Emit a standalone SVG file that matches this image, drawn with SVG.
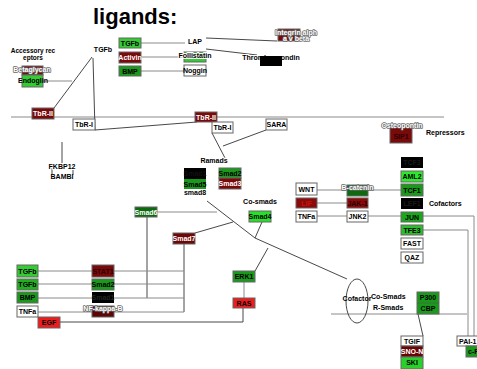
<svg xmlns="http://www.w3.org/2000/svg" width="477" height="369" viewBox="0 0 477 369">
<style>
  text { font-family: "Liberation Sans", Arial, sans-serif; font-weight: bold; font-size: 7px; }
  .c { text-anchor: middle; }
  .halo { paint-order: stroke; stroke: #fff; stroke-width: 2px; stroke-linejoin: round; }
  .wh { fill: #fff; paint-order: stroke; stroke: #666; stroke-width: 1.5px; stroke-linejoin: round; }
  .wt { fill: #fff; }
  .box { stroke: #666; stroke-width: 1; }
  .w { fill: #fff; }
  .g1 { fill: #33cc33; }
  .g2 { fill: #1a9a1a; }
  .g3 { fill: #0e6a0e; }
  .r1 { fill: #7a0a0a; }
  .r2 { fill: #ee1c1c; }
  .k { fill: #000; }
  .ln { fill: none; stroke: #333; stroke-width: 0.9; }
  .gl { fill: none; stroke: #8a8a8a; stroke-width: 1; }
</style>
<rect width="477" height="369" fill="#fff"/>

<!-- connectors -->
<g id="connectors">
  <line class="gl" x1="11" y1="117" x2="444" y2="117"/>
  <line class="gl" x1="331" y1="314" x2="467" y2="314"/>
  <line class="gl" x1="43" y1="81" x2="72" y2="81"/>
  <line class="ln" x1="92" y1="57" x2="54" y2="108"/>
  <line class="ln" x1="93" y1="58" x2="95" y2="130"/>
  <line class="ln" x1="95" y1="130" x2="197" y2="122"/>
  <line class="ln" x1="212" y1="133" x2="225" y2="158"/>
  <line class="ln" x1="223" y1="146" x2="266" y2="130"/>
  <line class="gl" x1="141" y1="43" x2="185" y2="43"/>
  <line class="gl" x1="141" y1="57" x2="184" y2="57"/>
  <line class="gl" x1="141" y1="71" x2="184" y2="71"/>
  <line class="ln" x1="206" y1="38" x2="277" y2="41"/>
  <line class="ln" x1="206" y1="49" x2="257" y2="55"/>
  <line class="ln" x1="62" y1="142" x2="62" y2="163"/>
  <line class="gl" x1="157" y1="212" x2="217" y2="212"/>
  <polyline class="ln" points="207,201 255,238 347,279"/>
  <line class="ln" x1="195" y1="233" x2="233" y2="222"/>
  <line class="ln" x1="262" y1="222" x2="255" y2="238"/>
  <line class="ln" x1="268" y1="248" x2="255" y2="271"/>
  <line class="gl" x1="244" y1="282" x2="244" y2="298"/>
  <polyline class="ln" points="60,322 243,322 243,308"/>
  <line class="ln" x1="147" y1="217" x2="147" y2="298"/>
  <line class="ln" x1="184" y1="244" x2="184" y2="312"/>
  <line class="gl" x1="38" y1="271" x2="184" y2="271"/>
  <line class="gl" x1="38" y1="284" x2="184" y2="284"/>
  <line class="gl" x1="38" y1="298" x2="184" y2="298"/>
  <line class="gl" x1="38" y1="312" x2="184" y2="312"/>
  <line class="gl" x1="317" y1="190" x2="401" y2="190"/>
  <line class="gl" x1="317" y1="203" x2="347" y2="203"/>
  <line class="gl" x1="317" y1="216" x2="401" y2="216"/>
  <polyline class="gl" points="423,216 474,216 474,336"/>
  <polyline class="gl" points="423,230 468,230 468,336"/>
  <line class="ln" x1="418" y1="314" x2="423" y2="336"/>
</g>

<!-- labels -->
<g id="labels">
  <text x="93" y="24" style="font-size:22px">ligands:</text>
  <text class="c" x="33" y="53" style="font-size:6.5px">Accessory rec</text>
  <text class="c" x="33" y="60" style="font-size:6.5px">eptors</text>
  <text class="c halo" x="103" y="52">TGFb</text>
  <text class="c halo" x="195" y="44">LAP</text>
  <text class="c halo" x="214" y="163">Ramads</text>
  <text class="c halo" x="260" y="204">Co-smads</text>
  <text x="426" y="135">Repressors</text>
  <text x="429" y="206">Cofactors</text>
  <text x="371" y="299">Co-Smads</text>
  <text x="373" y="310">R-Smads</text>
</g>

<g id="betaglycan"><rect class="box r1" x="22" y="66" width="21" height="9"/><text class="c wh" x="32" y="72">Betaglycan</text></g>
<g id="endoglin"><rect class="box g1" x="22" y="75" width="21" height="12"/><text class="c" x="33" y="82.5">Endoglin</text></g>
<g id="tbr2a"><rect class="box r1" x="32" y="108" width="22" height="11"/><text class="c wt" x="43" y="116">TbR-II</text></g>
<g id="tbr1a"><rect class="box w" x="73" y="119" width="22" height="11"/><text class="c" x="84" y="127">TbR-I</text></g>
<g id="tbr2b"><rect class="box r1" x="195" y="112" width="22" height="10"/><text class="c wt" x="206" y="119.5">TbR-II</text></g>
<g id="tbr1b"><rect class="box w" x="212" y="122" width="21" height="11"/><text class="c" x="222.5" y="130">TbR-I</text></g>
<g id="sara"><rect class="box w" x="266" y="119" width="21" height="11"/><text class="c" x="276.5" y="127">SARA</text></g>

<g id="tgfb-top"><rect class="box g1" x="119" y="38" width="22" height="10"/><text class="c" x="130" y="45.5">TGFb</text></g>
<g id="activin"><rect class="box r1" x="119" y="52" width="22" height="11"/><text class="c wt" x="130" y="59.5">Activin</text></g>
<g id="bmp-top"><rect class="box g2" x="119" y="66" width="22" height="10"/><text class="c" x="130" y="73.5">BMP</text></g>
<g id="follistatin"><rect class="box g1" x="184" y="52" width="22" height="10"/><text class="c halo" x="195" y="57.5">Follistatin</text></g>
<g id="noggin"><rect class="box w" x="184" y="65" width="22" height="11"/><text class="c" x="195" y="73">Noggin</text></g>
<g id="integrin"><rect class="box r1" x="278" y="29" width="22" height="12"/><text class="c wh" x="296" y="35">Integrin alph</text><text class="c wh" x="296" y="40.5">a v beta</text></g>
<g id="thrombospondin"><text class="c halo" x="271" y="60">Thrombospondin</text><rect class="k" x="260" y="56" width="22" height="10"/></g>

<g id="fkbp12"><line class="ln" x1="52" y1="168" x2="52" y2="175"/><line class="ln" x1="73" y1="168" x2="73" y2="175"/><text class="c halo" x="62" y="169">FKBP12</text><text class="c" x="62" y="179">BAMBI</text></g>

<g id="smad15"><rect class="k" x="184" y="168" width="22" height="11"/><text class="c" x="195" y="176" fill="#111">Smad1</text><rect class="g2" x="184" y="179" width="22" height="10"/><text class="c" x="195" y="186.5">Smad5</text><text class="c" x="195" y="195">smad8</text></g>
<g id="smad23"><rect class="box g2" x="219" y="168" width="22" height="10"/><text class="c" x="230" y="175.5">Smad2</text><rect class="box r1" x="219" y="178" width="22" height="11"/><text class="c wt" x="230" y="186">Smad3</text></g>
<g id="smad4"><rect class="box g1" x="249" y="211" width="22" height="11" style="fill:#2adf2a"/><text class="c" x="260" y="219">Smad4</text></g>
<g id="smad6"><rect class="box g3" x="135" y="207" width="22" height="10"/><text class="c wt" x="146" y="214.5">Smad6</text></g>
<g id="smad7"><rect class="box" x="173" y="233" width="22" height="11" style="fill:#6d0808"/><text class="c wt" x="184" y="241">Smad7</text></g>
<g id="erk1"><rect class="box g2" x="233" y="271" width="22" height="11"/><text class="c" x="244" y="279">ERK1</text></g>
<g id="ras"><rect class="box r2" x="233" y="298" width="22" height="10"/><text class="c" x="244" y="305.5">RAS</text></g>

<g id="tgfb-1"><rect class="box g1" x="17" y="265" width="21" height="12"/><text class="c" x="27.5" y="273.5">TGFb</text></g>
<g id="tgfb-2"><rect class="box" x="17" y="279" width="21" height="11" style="fill:#22b022"/><text class="c" x="27.5" y="287">TGFb</text></g>
<g id="bmp"><rect class="box g2" x="17" y="292" width="21" height="11"/><text class="c" x="27.5" y="300">BMP</text></g>
<g id="tnfa-1"><rect class="box w" x="17" y="306" width="21" height="11"/><text class="c" x="27.5" y="314">TNFa</text></g>
<g id="egf"><rect class="box r2" x="38" y="317" width="22" height="11"/><text class="c" x="49" y="325">EGF</text></g>
<g id="stat1"><rect class="box r1" x="92" y="265" width="22" height="12"/><text class="c" x="103" y="273.5" fill="#2a0000">STAT1</text></g>
<g id="smad2"><rect class="box g2" x="92" y="279" width="22" height="11"/><text class="c" x="103" y="287">Smad2</text></g>
<g id="smad1"><rect class="k" x="92" y="292" width="22" height="11"/><text class="c" x="103" y="300" fill="#222">Smad1</text></g>
<g id="nfkb"><rect class="box" x="92" y="306" width="22" height="11" style="fill:#5e0505"/><text class="c wh" x="103" y="311">NF-kappa-B</text></g>

<g id="sip1"><rect class="box r1" x="390" y="127" width="22" height="16"/><text class="c wh" x="402" y="127.5">Osteopontin</text><text class="c" x="401" y="139" fill="#2a0000">SIP1</text></g>

<g id="wnt"><rect class="box w" x="296" y="183" width="21" height="12"/><text class="c" x="306.5" y="191.5">WNT</text></g>
<g id="lif"><rect class="box r1" x="296" y="198" width="21" height="10" style="fill:#8b0a0a"/><text class="c" x="306.5" y="205.5" fill="#d01010">LIF</text></g>
<g id="tnfa-2"><rect class="box w" x="296" y="211" width="21" height="11"/><text class="c" x="306.5" y="219">TNFa</text></g>
<g id="bcatenin"><rect class="box g3" x="347" y="185" width="21" height="11"/><text class="c wh" x="357.5" y="190">B-catenin</text></g>
<g id="jak1"><rect class="box" x="347" y="198" width="21" height="10" style="fill:#8b0a0a"/><text class="c" x="357.5" y="205.5" fill="#2a0000">JAK-1</text></g>
<g id="jnk2"><rect class="box w" x="347" y="211" width="21" height="11"/><text class="c" x="357.5" y="219">JNK2</text></g>

<g id="tcf3"><rect class="k" x="401" y="157" width="22" height="11"/><text class="c" x="412" y="165" fill="#1a1a1a">TCF3</text></g>
<g id="aml2"><rect class="box" x="401" y="171" width="22" height="11" style="fill:#2ee82e"/><text class="c" x="412" y="179">AML2</text></g>
<g id="tcf1"><rect class="box g2" x="401" y="184" width="22" height="12"/><text class="c" x="412" y="192.5">TCF1</text></g>
<g id="lef1"><rect class="k" x="401" y="198" width="22" height="11"/><text class="c" x="412" y="206" fill="#1a1a1a">LEF1</text></g>
<g id="jun"><rect class="box" x="401" y="212" width="22" height="10" style="fill:#1aa81a"/><text class="c" x="412" y="219.5">JUN</text></g>
<g id="tfe3"><rect class="box" x="401" y="225" width="22" height="10" style="fill:#2ebb2e"/><text class="c" x="412" y="232.5">TFE3</text></g>
<g id="fast"><rect class="box w" x="401" y="238" width="22" height="11"/><text class="c" x="412" y="246">FAST</text></g>
<g id="qaz"><rect class="box w" x="401" y="252" width="22" height="11"/><text class="c" x="412" y="260">QAZ</text></g>

<g id="cofactor"><ellipse cx="357" cy="301" rx="11" ry="22" fill="none" stroke="#333" stroke-width="0.9"/><text class="c" x="357" y="301">Cofactor</text></g>
<g id="p300-cbp"><rect class="box g2" x="417" y="292" width="22" height="22"/><line x1="417" y1="303" x2="439" y2="303" stroke="#555" stroke-width="0.6"/><text class="c" x="428" y="300">P300</text><text class="c" x="428" y="311">CBP</text></g>
<g id="tgif"><rect class="box w" x="401" y="336" width="22" height="10"/><text class="c" x="412" y="343.5">TGIF</text></g>
<g id="snon"><rect class="box" x="401" y="346" width="22" height="11" style="fill:#6a0505"/><text class="c wt" x="412" y="354">SNO-N</text></g>
<g id="ski"><rect class="box" x="401" y="357" width="22" height="12" style="fill:#2ad02a"/><text class="c" x="412" y="365">SKI</text></g>
<g id="pai1"><rect class="box w" x="457" y="336" width="22" height="10"/><text x="459" y="343.5">PAI-1</text></g>
<g id="cfos"><rect class="box g2" x="466" y="346" width="22" height="11"/><text x="468" y="354">c-F</text></g>
</svg>
